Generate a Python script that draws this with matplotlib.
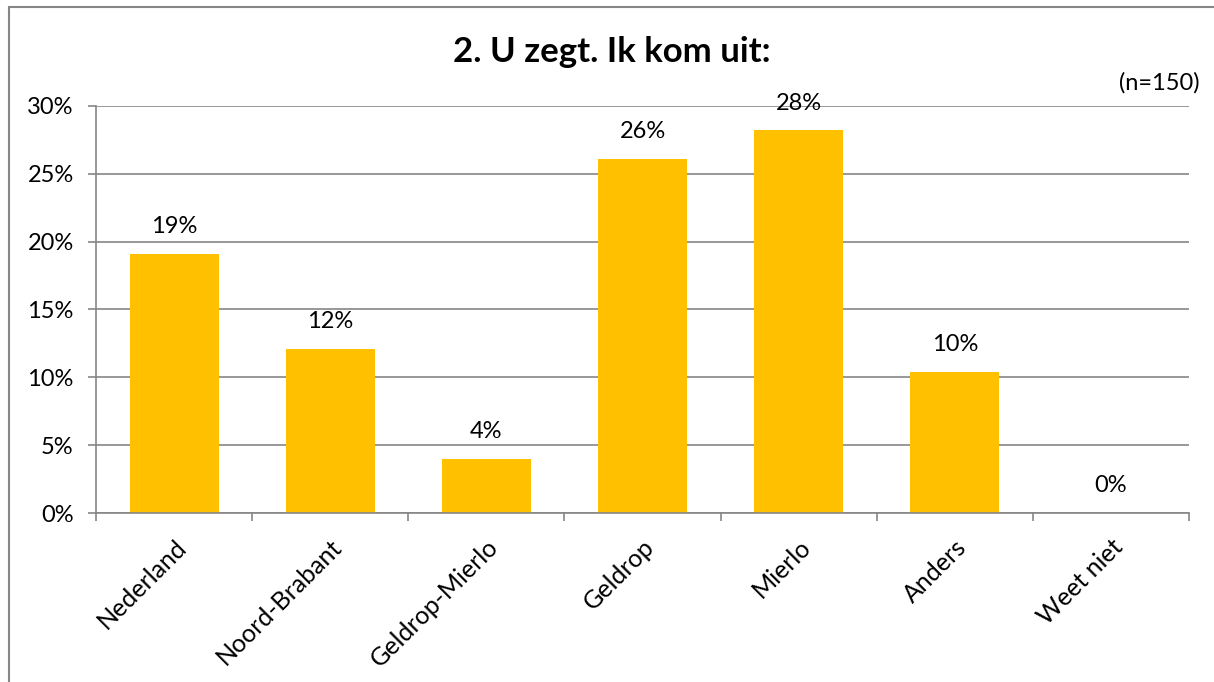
import matplotlib
matplotlib.use("Agg")
import matplotlib.pyplot as plt
import numpy as np
from matplotlib.patches import Rectangle

plt.rcParams['font.family'] = ['Lato', 'DejaVu Sans']

categories = ['Nederland', 'Noord-Brabant', 'Geldrop-Mierlo', 'Geldrop', 'Mierlo', 'Anders', 'Weet niet']
values = [19.1, 12.1, 4.0, 26.1, 28.2, 10.4, 0.0]
labels = ['19%', '12%', '4%', '26%', '28%', '10%', '0%']
yticks = [0, 5, 10, 15, 20, 25, 30]

fig = plt.figure(figsize=(12.14, 6.82), dpi=100)
ax = fig.add_axes([0.0791, 0.2478, 0.9003, 0.5968])

grey = '#868686'
x = np.arange(len(categories))
ax.bar(x, values, width=0.57, color='#FFC000', zorder=2)

for xi, v, lab in zip(x, values, labels):
    ax.annotate(lab, (xi, v), xytext=(0, 12), textcoords='offset points',
                ha='center', va='bottom', fontsize=17, color='black')

ax.set_xlim(-0.5, len(categories) - 0.5)
ax.set_ylim(0, 30)
ax.set_yticks(yticks)
ax.set_yticklabels([f'{t}%' for t in yticks], fontsize=17)
ax.yaxis.grid(True, color=grey, linewidth=1.2, zorder=0)
ax.set_axisbelow(True)

ax.set_xticks(x)
ax.set_xticklabels(categories, fontsize=18, rotation=45, ha='right', rotation_mode='anchor')
ax.set_xticks(np.arange(-0.5, len(categories)), minor=True)
ax.tick_params(axis='x', which='major', length=0, pad=16)
ax.tick_params(axis='x', which='minor', length=6, color=grey, width=1.2)
ax.tick_params(axis='y', length=6, color=grey, width=1.2, pad=10)

for s in ['top', 'right']:
    ax.spines[s].set_visible(False)
for s in ['left', 'bottom']:
    ax.spines[s].set_color(grey)
    ax.spines[s].set_linewidth(1.2)

fig.text(0.504, 0.924, '2. U zegt. Ik kom uit:', ha='center', va='center',
         fontsize=25, fontweight='bold')
fig.text(0.988, 0.878, '(n=150)', ha='right', va='center', fontsize=17)

fig.patches.append(Rectangle((0.0074, -0.05), 1.2, 1.0397, transform=fig.transFigure,
                             fill=False, edgecolor=grey, linewidth=1.5))

fig.savefig('out.png', dpi=100)
